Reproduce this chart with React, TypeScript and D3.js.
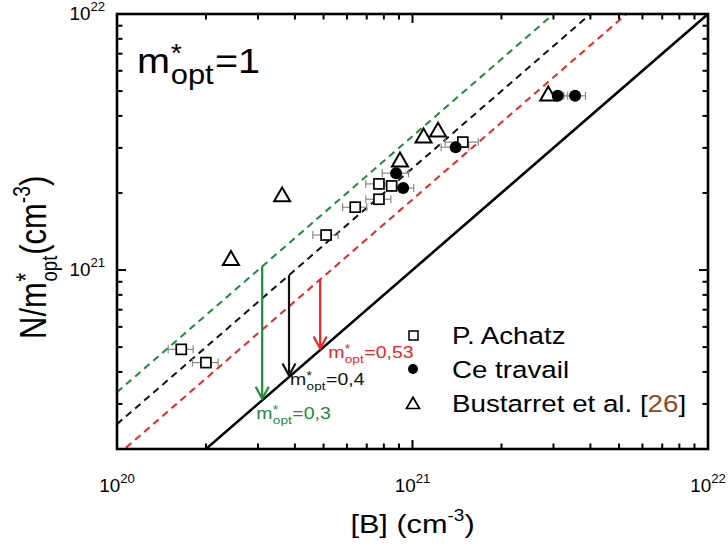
import React from "react";
import * as d3 from "d3";

// ---------- data ----------
const xDomain = [1e20, 1e22];
const yDomain = [2e20, 1e22];

// P. Achatz (open squares, horizontal error bars)
const achatzB = [1.65e20, 2.0e20, 5.1e20, 6.4e20, 7.7e20, 7.7e20, 8.5e20, 1.48e21];
const achatzN = [4.9e20, 4.35e20, 1.37e21, 1.76e21, 1.89e21, 2.17e21, 2.13e21, 3.16e21];
const achatzErr = [0.16e20, 0.2e20, 0.5e20, 0.6e20, 0.75e20, 0.75e20, 0.8e20, 0.19e21];

// Ce travail (filled circles)
const ceB = [8.8e20, 9.3e20, 1.4e21, 3.1e21, 3.55e21];
const ceN = [2.39e21, 2.09e21, 3.02e21, 4.79e21, 4.79e21];
const ceErr = [0.9e20, 0.8e20, 0.15e21, 0.25e21, 0.3e21];

// Bustarret et al. (open triangles)
const bustB = [2.43e20, 3.62e20, 9.07e20, 1.09e21, 1.22e21, 2.88e21];
const bustN = [1.1e21, 1.95e21, 2.67e21, 3.31e21, 3.49e21, 4.83e21];

// reference lines N/m* = B / m*
const lineMass = [0.3, 0.4, 0.53];
const lineLabels = ["0,3", "0,4", "0,53"];
const lineColors = ["#1f8a3a", "#111111", "#ee2424"];
// arrow positions ([B]) for each mass
const arrowB = [3.1e20, 3.82e20, 4.87e20];

const legendLabels = ["P. Achatz", "Ce travail", "Bustarret et al. ["];

// ---------- helpers ----------
const FONT = "'Liberation Sans', Arial, sans-serif";
const SX = 1.18; // horizontal stretch of the reference's text
let ctx: CanvasRenderingContext2D | null = null;
function tw(text: string, size: number) {
  if (!ctx) ctx = document.createElement("canvas").getContext("2d");
  if (!ctx) return text.length * size * 0.55;
  ctx.font = `${size}px 'Liberation Sans', Arial, sans-serif`;
  return ctx.measureText(text).width;
}
const stretch = (ax: number, ay: number, s = SX) =>
  `translate(${ax},${ay}) scale(${s},1) translate(${-ax},${-ay})`;

// draws "prefix m*_opt suffix" starting at x, baseline y
function mopt(
  x: number,
  y: number,
  fs: number,
  color: string,
  prefix: string,
  suffix: React.ReactNode,
  key: string,
  s = SX,
  starScale = 0.72,
  subScale = 0.64
) {
  const pre = prefix + "m";
  const wPre = tw(pre, fs);
  const subFs = fs * subScale;
  const wSub = tw("opt", subFs);
  const sx = x + wPre + fs * 0.02;
  return (
    <g key={key} fill={color} fontFamily={FONT} transform={stretch(x, y, s)}>
      <text x={x} y={y} fontSize={fs}>{pre}</text>
      <text x={sx} y={y - fs * 0.3} fontSize={fs * starScale}>*</text>
      <text x={sx} y={y + fs * 0.3} fontSize={subFs}>opt</text>
      <text x={sx + wSub + fs * 0.03} y={y} fontSize={fs}>{suffix}</text>
    </g>
  );
}

export default function App() {
  const W = 728;
  const H = 547;
  const L = 117, R = 708, T = 14, B = 449;
  const x = d3.scaleLog().domain(xDomain).range([L, R]);
  const y = d3.scaleLog().domain(yDomain).range([B, T]);

  const isMajor = (v: number) => Math.abs(Math.log10(v) - Math.round(Math.log10(v))) < 1e-6;
  const xt = x.ticks();
  const yt = y.ticks();
  const MAJ = 9, MIN = 5.5;

  const achatz = achatzB.map((b, i) => ({ b, n: achatzN[i], e: achatzErr[i] }));
  const ce = ceB.map((b, i) => ({ b, n: ceN[i], e: ceErr[i] }));
  const bust = bustB.map((b, i) => ({ b, n: bustN[i] }));

  const line = d3
    .line<number>()
    .x((d) => x(d))
    .y((d) => y(d));

  const tri = (cx: number, cy: number, s: number) => {
    const h = s * 0.87;
    return `M${cx},${cy - h * 0.6}L${cx + s / 2},${cy + h * 0.4}L${cx - s / 2},${cy + h * 0.4}Z`;
  };

  const errCol = "#8a8a8a";

  // x label
  const xlFs = 26;

  // y label
  const ylFs = 31;
  const ylSub = 0.6;
  const ylW =
    tw("N/m", ylFs) + tw("opt", ylFs * ylSub) + ylFs * 0.05 + tw("(cm", ylFs) + tw("-3", ylFs * 0.62) + tw(")", ylFs);
  const ylCx = 46;
  const ylCy = 339 - ylW / 2;

  const tickFs = 18;
  const tickSup = 12.5;

  return (
    <svg
      width={W}
      height={H}
      style={{ position: "absolute", left: 0, top: 0, background: "#fff" }}
      fontFamily={FONT}
    >
      <defs>
        <clipPath id="plot">
          <rect x={L} y={T} width={R - L} height={B - T} />
        </clipPath>
      </defs>
      <rect x={0} y={0} width={W} height={H} fill="#fff" />

      {/* reference lines */}
      <g clipPath="url(#plot)" fill="none">
        <path d={line(xDomain) || ""} stroke="#000" strokeWidth={2.6} />
        {lineMass.map((m, i) => (
          <path
            key={m}
            d={
              d3
                .line<number>()
                .x((d) => x(d))
                .y((d) => y(d / m))(xDomain) || ""
            }
            stroke={lineColors[i]}
            strokeWidth={2}
            strokeDasharray="7,5"
          />
        ))}
      </g>

      {/* arrows */}
      {lineMass.map((m, i) => {
        const ax = x(arrowB[i]);
        const y0 = y(arrowB[i] / m);
        const y1 = y(arrowB[i]) - 1.5;
        return (
          <g key={"a" + i} stroke={lineColors[i]} strokeWidth={2.2} fill="none">
            <line x1={ax} x2={ax} y1={y0} y2={y1} />
            <path d={`M${ax - 6.5},${y1 - 12}L${ax},${y1}L${ax + 6.5},${y1 - 12}`} />
          </g>
        );
      })}

      {/* annotations */}
      {mopt(x(arrowB[2]) + 8, y(arrowB[2]) + 8, 16.5, lineColors[2], "", "=" + lineLabels[2], "l2", SX, 0.72, 0.7)}
      {mopt(x(arrowB[1]) + 1, y(arrowB[1]) + 8, 16.5, lineColors[1], "", "=" + lineLabels[1], "l1", SX, 0.72, 0.7)}
      {mopt(x(arrowB[0]) - 6, y(arrowB[0]) + 19, 16.5, lineColors[0], "", "=" + lineLabels[0], "l0", SX, 0.72, 0.7)}

      {/* error bars */}
      <g stroke={errCol} strokeWidth={1.2}>
        {[...achatz, ...ce].map((d, i) => {
          const x0 = x(d.b - d.e), x1 = x(d.b + d.e), yy = y(d.n);
          return (
            <g key={"e" + i}>
              <line x1={x0} x2={x1} y1={yy} y2={yy} />
              <line x1={x0} x2={x0} y1={yy - 4} y2={yy + 4} />
              <line x1={x1} x2={x1} y1={yy - 4} y2={yy + 4} />
            </g>
          );
        })}
      </g>

      {/* squares */}
      {achatz.map((d, i) => (
        <rect
          key={"s" + i}
          x={x(d.b) - 5}
          y={y(d.n) - 5}
          width={10}
          height={10}
          fill="#fff"
          stroke="#000"
          strokeWidth={1.7}
        />
      ))}
      {/* triangles */}
      {bust.map((d, i) => (
        <path key={"t" + i} d={tri(x(d.b), y(d.n), 16)} fill="#fff" stroke="#000" strokeWidth={2} />
      ))}
      {/* circles */}
      {ce.map((d, i) => (
        <circle key={"c" + i} cx={x(d.b)} cy={y(d.n)} r={6} fill="#000" />
      ))}

      {/* frame */}
      <rect x={L} y={T} width={R - L} height={B - T} fill="none" stroke="#000" strokeWidth={2.6} />

      {/* ticks */}
      <g stroke="#000" strokeWidth={2}>
        {xt.map((v, i) => {
          const len = isMajor(v) ? MAJ : MIN;
          const px = x(v);
          return (
            <g key={"xt" + i}>
              <line x1={px} x2={px} y1={B} y2={B - len} />
              <line x1={px} x2={px} y1={T} y2={T + len} />
            </g>
          );
        })}
        {yt.map((v, i) => {
          const len = isMajor(v) ? MAJ : MIN;
          const py = y(v);
          return (
            <g key={"yt" + i}>
              <line x1={L} x2={L + len} y1={py} y2={py} />
              <line x1={R} x2={R - len} y1={py} y2={py} />
            </g>
          );
        })}
      </g>

      {/* tick labels */}
      <g fill="#000">
        {xt.filter(isMajor).map((v) => (
          <text
            key={"xl" + v}
            x={x(v)}
            y={B + 43}
            fontSize={tickFs}
            textAnchor="middle"
            transform={stretch(x(v), B + 43, 1.05)}
          >
            <tspan>10</tspan>
            <tspan fontSize={tickSup} dy={-9}>{Math.round(Math.log10(v))}</tspan>
          </text>
        ))}
        {yt.filter(isMajor).map((v) => (
          <text
            key={"yl" + v}
            x={L - 12}
            y={y(v) + 6}
            fontSize={tickFs}
            textAnchor="end"
            transform={stretch(L - 12, y(v) + 6, 1.05)}
          >
            <tspan>10</tspan>
            <tspan fontSize={tickSup} dy={-9}>{Math.round(Math.log10(v))}</tspan>
          </text>
        ))}
      </g>

      {/* axis titles */}
      <text
        x={(L + R) / 2}
        y={533}
        fontSize={xlFs}
        textAnchor="middle"
        transform={stretch((L + R) / 2, 533)}
      >
        <tspan>[B] (cm</tspan>
        <tspan fontSize={xlFs * 0.62} dy={-12}>-3</tspan>
        <tspan dy={12}>)</tspan>
      </text>
      <g transform={`translate(${ylCx},${ylCy}) scale(1.2,1) rotate(-90)`}>
        {mopt(
          -ylW / 2,
          0,
          ylFs,
          "#000",
          "N/",
          <>
            <tspan>(cm</tspan>
            <tspan fontSize={ylFs * 0.62} dy={-13}>-3</tspan>
            <tspan dy={13}>)</tspan>
          </>,
          "ylab",
          1,
          0.72,
          ylSub
        )}
      </g>

      {/* m*opt=1 */}
      {mopt(137, 73, 36, "#000", "", "=1", "m1", 1.1, 0.72, 0.78)}

      {/* legend */}
      <g>
        <rect x={409} y={331} width={9} height={9} fill="#fff" stroke="#000" strokeWidth={1.5} />
        <circle cx={413} cy={369} r={5} fill="#000" />
        <path d={tri(413, 404, 13)} fill="#fff" stroke="#000" strokeWidth={1.7} />
        {legendLabels.map((t, i) => (
          <text
            key={"lg" + i}
            x={452}
            y={344 + i * 34}
            fontSize={23.5}
            fill="#000"
            transform={stretch(452, 344 + i * 34)}
          >
            {t}
            {i === 2 && (
              <>
                <tspan fill="#8b4a2b">26</tspan>
                <tspan>]</tspan>
              </>
            )}
          </text>
        ))}
      </g>
    </svg>
  );
}
